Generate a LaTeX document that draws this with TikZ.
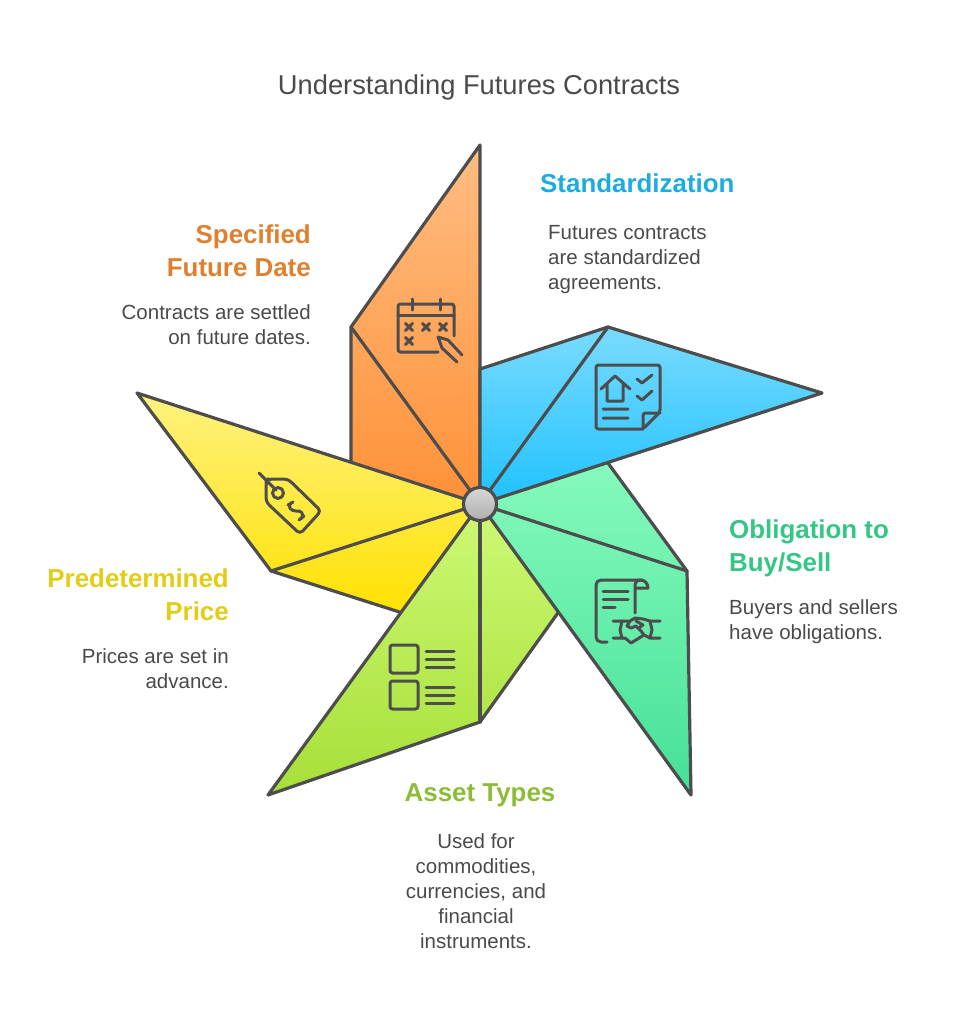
\documentclass[tikz,border=0pt]{standalone}
\usepackage{fontspec}
\setmainfont{Liberation Sans}
\definecolor{ink}{HTML}{4D4D4D}
\definecolor{txt}{HTML}{4A4A4A}
\definecolor{hblue}{HTML}{1DACDE}
\definecolor{horange}{HTML}{E07F2D}
\definecolor{hgreen}{HTML}{34C685}
\definecolor{hlime}{HTML}{8FBC38}
\definecolor{hyellow}{HTML}{E3CC14}
\tikzset{
  petal/.style={draw=ink,line width=3.2pt,line join=round,line cap=round},
  fan/.style={draw=ink,line width=3.2pt,line cap=round},
  icon/.style={draw=ink,line width=3pt,line join=round,line cap=round,rounded corners=2.5pt},
  sharp/.style={icon,rounded corners=0pt},
  titletext/.style={text=txt,font=\fontsize{27.3}{32}\selectfont,inner sep=0pt},
  headtext/.style={font=\fontsize{25.9}{33}\selectfont\bfseries,inner sep=0pt},
  bodytext/.style={text=txt,font=\fontsize{20.5}{25}\selectfont,inner sep=0pt},
}
\begin{document}
\begin{tikzpicture}[x=1pt,y=-1pt]
\path[use as bounding box] (0,0) rectangle (958,1024);
\coordinate (c) at (480,504);
% orange
\coordinate (o1) at (480,145); \coordinate (o2) at (351,327); \coordinate (o3) at (351,470);
\path[petal,top color={rgb,255:red,255;green,189;blue,130},bottom color={rgb,255:red,255;green,145;blue,56}] (c)--(o1)--(o2)--(o3)--cycle;
\draw[fan] (o2)--(c);
% yellow
\coordinate (y1) at (137,393); \coordinate (y2) at (271,571); \coordinate (y3) at (412,616);
\path[petal,top color={rgb,255:red,255;green,242;blue,128},bottom color={rgb,255:red,255;green,225;blue,0}] (c)--(y1)--(y2)--(y3)--cycle;
\draw[fan] (y2)--(c);
% lime
\coordinate (l1) at (268,795); \coordinate (l2) at (480,722); \coordinate (l3) at (570,596);
\path[petal,top color={rgb,255:red,205;green,249;blue,117},bottom color={rgb,255:red,167;green,223;blue,56}] (c)--(l1)--(l2)--(l3)--cycle;
\draw[fan] (l2)--(c);
% green
\coordinate (g1) at (691,795); \coordinate (g2) at (687,571); \coordinate (g3) at (597,448);
\path[petal,top color={rgb,255:red,136;green,251;blue,190},bottom color={rgb,255:red,69;green,224;blue,152}] (c)--(g1)--(g2)--(g3)--cycle;
\draw[fan] (g2)--(c);
% blue
\coordinate (b1) at (822,393); \coordinate (b2) at (608,327); \coordinate (b3) at (480,369);
\path[petal,top color={rgb,255:red,122;green,219;blue,255},bottom color={rgb,255:red,31;green,194;blue,255}] (c)--(b1)--(b2)--(b3)--cycle;
\draw[fan] (b2)--(c);
% hub
\node (hub) at (c) [circle,minimum size=33pt,inner sep=0pt,draw=ink,line width=3.2pt,top color={rgb,255:red,216;green,216;blue,216},bottom color={rgb,255:red,174;green,174;blue,174}] {};
% calendar icon
\draw[icon] (438,352)--(398,352)--(398,304)--(454,304)--(454,336);
\draw[sharp] (398,315)--(454,315) (412,299)--(412,310) (440,299)--(440,310);
\foreach \p/\q in {409/327,426/327,443/327,409/341}
  \draw[sharp] (\p-3.5,\q-3.5)--(\p+3.5,\q+3.5) (\p-3.5,\q+3.5)--(\p+3.5,\q-3.5);
\draw[sharp] (462,355)--(448,340)--(438,337)--(442,348)--(457,362);
% document icon (blue)
\draw[icon] (643,429)--(596,429)--(596,365)--(660,365)--(660,412)--(643,429)--(643,413)--(660,413);
\draw[sharp] (601,389)--(615,376)--(630,389) (607,385)--(607,401)--(623,401)--(623,385)
  (603,409)--(628,409) (603,418)--(628,418)
  (637,379)--(642,383)--(652,375) (637,396)--(642,400)--(652,391);
% contract icon (green)
\draw[icon,rounded corners=5pt] (607,642)--(596,642)--(596,580)--(642,580);
\draw[sharp] (635,613)--(635,586) .. controls (635,582) and (637,580) .. (641,580) .. controls (645,580) and (648,584) .. (648,588)--(635,588);
\draw[sharp] (603,591)--(628,591) (603,599)--(628,599) (603,607)--(615,607);
\draw[sharp] (613,621)--(622,621)--(620,630)--(622,638)--(613,638)
  (660,621)--(650,621)--(652,630)--(650,638)--(660,638);
\draw[sharp] (622,621)--(630,621)--(635,618)--(643,619)--(650,621)
  (622,638)--(625,638)--(631,643)--(644,635)--(650,638)
  (630,621)--(627,626)--(631,628)--(636,626)--(641,631)--(644,635)
  (636,621)--(643,625)--(640,627);
% tag icon
\draw[icon,rounded corners=4pt] (266,482)--(268,479)--(288,479)--(321,511)--(300,534)--(266,502)--cycle;
\draw[sharp] (278,493) circle (5.5pt);
\draw[sharp] (259,473)--(276,490);
\draw[sharp] (288,505)--(293,502) (291,503) .. controls (287,507) and (291,511) .. (296,511) .. controls (301,510) and (305,514) .. (301,519)
  (299,520)--(304,516);
% list icon
\draw[icon] (390,645) rectangle (418,673);
\draw[icon] (390,681) rectangle (418,709);
\draw[sharp] (426,651)--(454,651) (426,659)--(454,659) (426,667)--(454,667)
  (426,687)--(454,687) (426,695)--(454,695) (426,703)--(454,703);
% texts
\node[titletext] (title) at (479,87) {Understanding Futures Contracts};
\node[headtext,text=hblue,anchor=west] (h1) at (540,183) {Standardization};
\node[bodytext,anchor=west,align=left] (t1) at (548,260) {Futures contracts\\are standardized\\agreements.};
\node[headtext,text=horange,anchor=east,align=right] (h2) at (311,250.5) {Specified\\Future Date};
\node[bodytext,anchor=east,align=right] (t2) at (311,325) {Contracts are settled\\on future dates.};
\node[headtext,text=hgreen,anchor=west,align=left] (h3) at (729,548.5) {Obligation to\\Buy/Sell};
\node[bodytext,anchor=west,align=left] (t3) at (729,621.5) {Buyers and sellers\\have obligations.};
\node[headtext,text=hyellow,anchor=east,align=right] (h4) at (229,594.5) {Predetermined\\Price};
\node[bodytext,anchor=east,align=right] (t4) at (229,668.5) {Prices are set in\\advance.};
\node[headtext,text=hlime] (h5) at (480,795) {Asset Types};
\node[bodytext,align=center] (t5) at (476,891.5) {Used for\\commodities,\\currencies, and\\financial\\instruments.};
\end{tikzpicture}
\end{document}
